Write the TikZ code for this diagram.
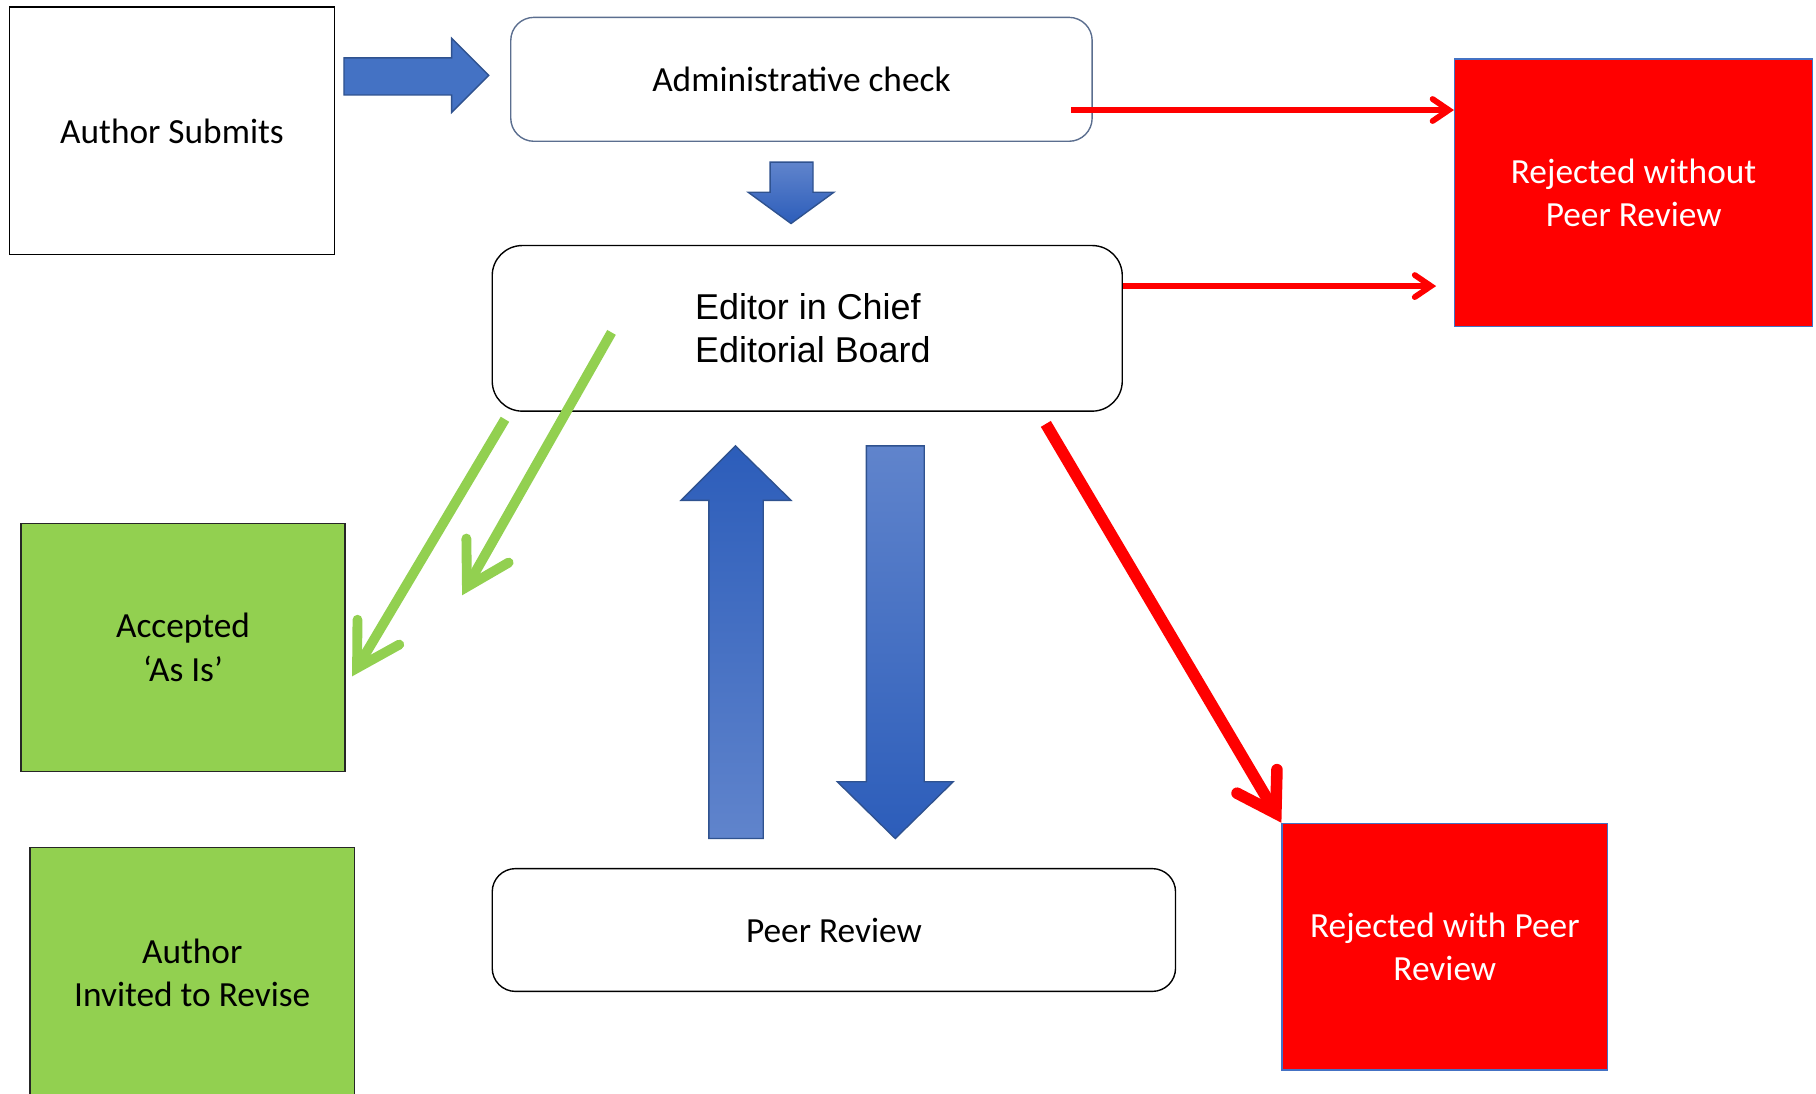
\documentclass[tikz,border=0pt]{standalone}
\usepackage{fontspec}
\setmainfont{Carlito}
\newfontfamily\arialf{Liberation Sans}
\usetikzlibrary{arrows.meta,calc}
\definecolor{accblue}{HTML}{4472C4}
\definecolor{blueline}{HTML}{2F528F}
\definecolor{slate}{HTML}{5B6E8F}
\definecolor{leaf}{HTML}{92D050}
\definecolor{bluelight}{HTML}{6084CC}
\definecolor{bluedark}{HTML}{2C5DBA}
\tikzset{
  txt/.style={align=center, inner sep=0pt, font=\fontsize{30.5}{37.5}\selectfont},
  box/.style={txt, draw=black, line width=1.2pt},
  rbox/.style={box, rounded corners=22pt},
  greenbox/.style={box, fill=leaf, draw=black!85},
  redbox/.style={txt, fill=red, draw=accblue, line width=1.2pt, text=white},
  redthin/.style={draw=red, line width=5pt, -{Straight Barb[length=14pt, width=19pt, line cap=round, line join=miter]}},
  redthick/.style={draw=red, line width=10pt, -{Straight Barb[length=32pt, width=40pt, line cap=round, line join=miter]}},
  greenarr/.style={draw=leaf, line width=8.5pt, -{Straight Barb[length=36pt, width=42pt, line cap=round, line join=miter]}},
  blockarrow/.style={draw=blueline, line width=1.2pt, line join=miter},
}
\begin{document}
\begin{tikzpicture}[x=1pt,y=-1pt]
\useasboundingbox (0,0) rectangle (1568,944);
\clip (0,0) rectangle (1568,944);
% boxes
\node[box, minimum width=281pt, minimum height=214pt] (author) at (148.5,113) {Author Submits};
\node[rbox, draw=slate, minimum width=502pt, minimum height=107pt, rounded corners=20pt] (admin) at (692,68.5) {Administrative check};
\node[rbox, minimum width=544pt, minimum height=143pt, rounded corners=26pt] (editor) at (697,283.5) {};
\node[txt, align=left, anchor=west, font=\arialf\fontsize{31}{37}\selectfont] (editortxt) at (600,283.5) {Editor in Chief\\Editorial Board};
\node[rbox, minimum width=590pt, minimum height=106pt, rounded corners=20pt] (peer) at (720,803) {Peer Review};
\node[redbox, minimum width=309pt, minimum height=231pt] (rej1) at (1410.5,166.5) {Rejected without\\Peer Review};
\node[redbox, minimum width=281pt, minimum height=213pt] (rej2) at (1247.5,817.5) {Rejected with Peer\\Review};
\node[greenbox, minimum width=280pt, minimum height=214pt] (acc) at (158,559) {Accepted\\‘As Is’};
\node[greenbox, minimum width=280pt, minimum height=216pt] (inv) at (166,840) {Author\\Invited to Revise};

% block arrows
\path[blockarrow, fill=accblue] (297,50) -- (390,50) -- (390,33) -- (422,65) -- (390,97) -- (390,82) -- (297,82) -- cycle;
\path[blockarrow, top color=bluelight, bottom color=bluedark] (665,140) -- (702,140) -- (702,166) -- (720,166) -- (683,193) -- (646,166) -- (665,166) -- cycle;
\path[blockarrow, top color=bluedark, bottom color=bluelight] (612,724) -- (612,432) -- (588,432) -- (635,385) -- (683,432) -- (659,432) -- (659,724) -- cycle;
\path[blockarrow, top color=bluelight, bottom color=bluedark] (748,385) -- (798,385) -- (798,675) -- (823,675) -- (773,724) -- (723,675) -- (748,675) -- cycle;

% connectors
\coordinate (r1s) at (925,95);
\draw[redthin] (r1s) -- (rej1.west |- r1s);
\coordinate (r2e) at (1240,247);
\draw[redthin] (editor.east |- r2e) -- (r2e);
\coordinate (r3s) at (903,366);
\draw[redthick] (r3s) -- (rej2.north west);
\coordinate (g1s) at (436,362);
\coordinate (g1e) at (304,584);
\draw[greenarr] (g1s) -- (g1e);
\coordinate (g2s) at (528,287);
\coordinate (g2e) at (399,514);
\draw[greenarr] (g2s) -- (g2e);
\end{tikzpicture}
\end{document}
